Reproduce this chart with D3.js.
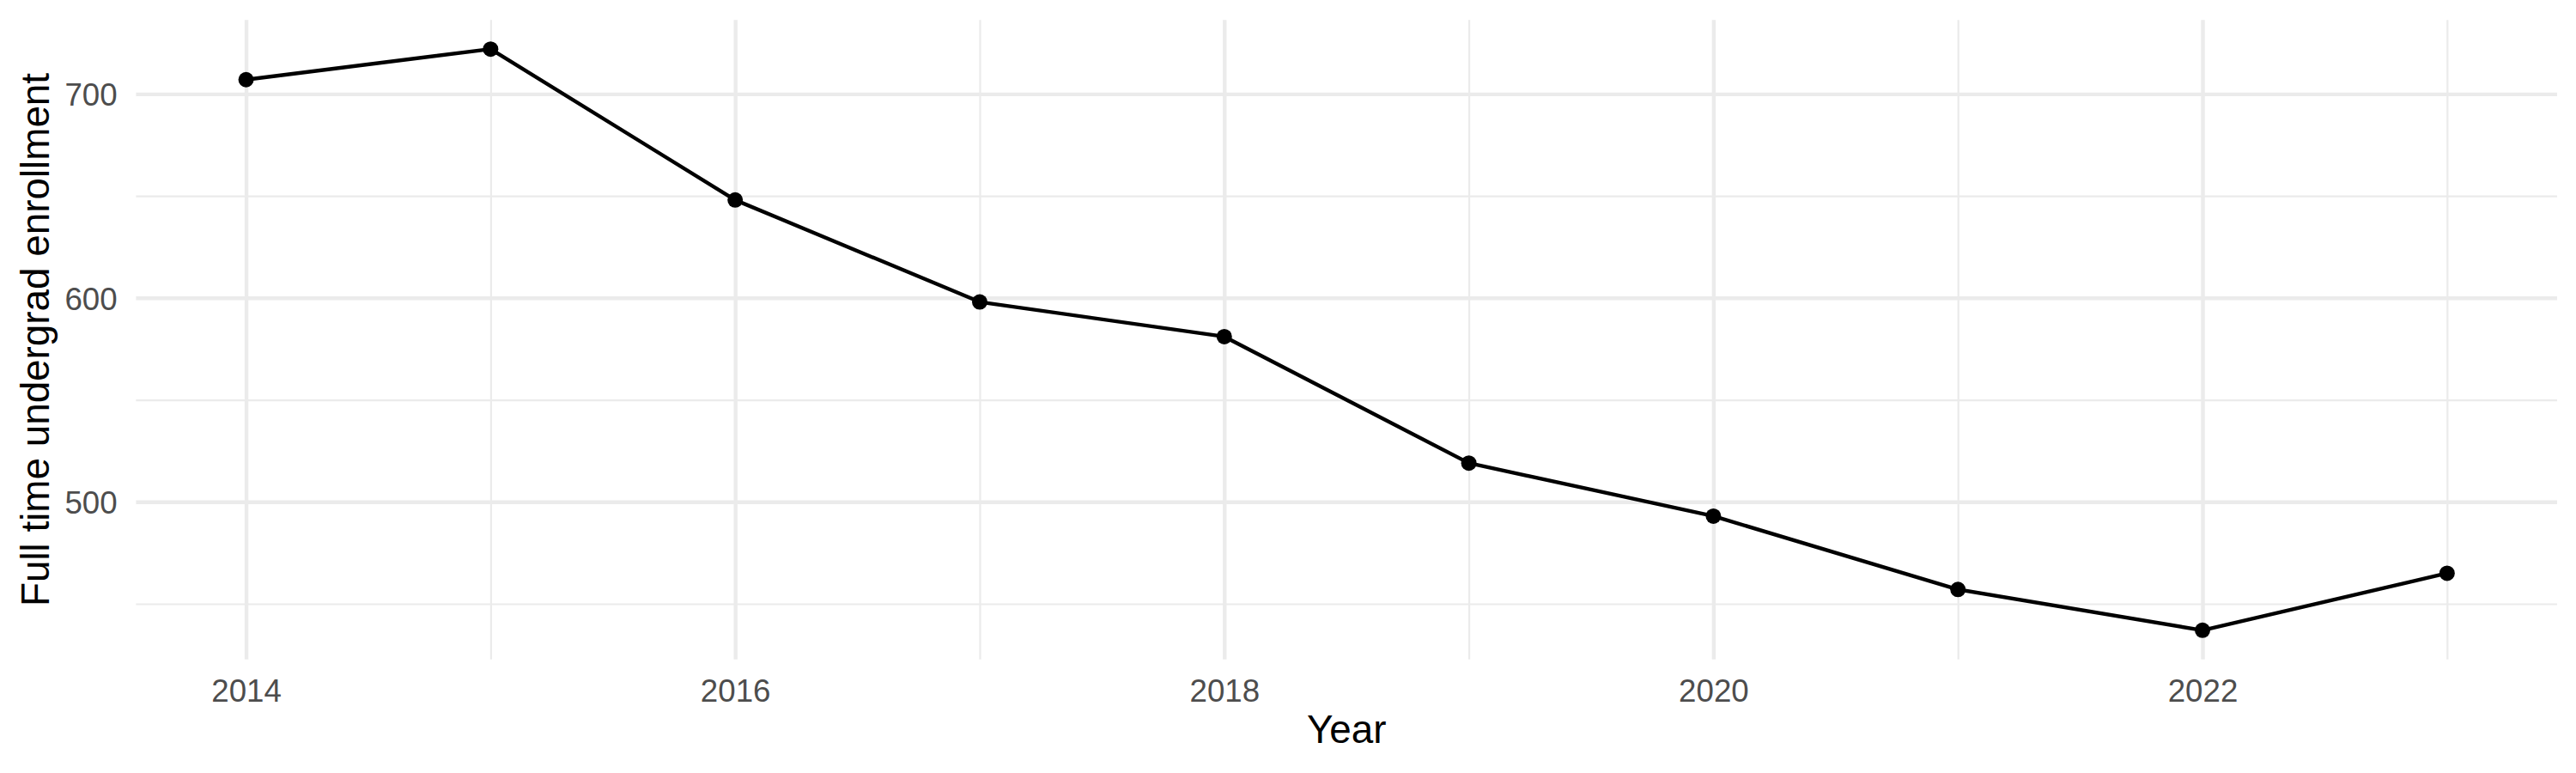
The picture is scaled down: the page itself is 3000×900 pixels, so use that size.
<!DOCTYPE html>
<html>
<head>
<meta charset="utf-8">
<script src="https://cdn.jsdelivr.net/npm/d3@7"></script>
<style>
  body { margin: 0; background: #fff; }
  svg { display: block; font-family: "Liberation Sans", Arial, Helvetica, sans-serif; }
</style>
</head>
<body>
<div id="chart"></div>
<script>
// Data
const years = [2014, 2015, 2016, 2017, 2018, 2019, 2020, 2021, 2022, 2023];
const enrollment = [707, 722, 648, 598, 581, 519, 493, 457, 437, 465];

// Axis breaks
const xMajorTicks = [2014, 2016, 2018, 2020, 2022];
const xMinorTicks = [2015, 2017, 2019, 2021, 2023];
const yMajorTicks = [500, 600, 700];
const yMinorTicks = [450, 550, 650];

const xTitle = "Year";
const yTitle = "Full time undergrad enrollment";

const data = years.map((y, i) => ({ year: y, value: enrollment[i] }));

const width = 3000;
const height = 900;
const panel = { left: 158.4, right: 2978, top: 23.3, bottom: 767.7 };

// ggplot-style 5% expansion of the data range
function expand(ext, mult) {
    const pad = (ext[1] - ext[0]) * mult;
    return [ext[0] - pad, ext[1] + pad];
}

const svg = d3.select("#chart")
    .append("svg")
    .attr("width", width)
    .attr("height", height);

svg.append("rect")
    .attr("width", width)
    .attr("height", height)
    .attr("fill", "#fff");

const x = d3.scaleLinear()
    .domain(expand(d3.extent(years), 0.05))
    .range([panel.left, panel.right]);

const y = d3.scaleLinear()
    .domain(expand(d3.extent(enrollment), 0.05))
    .range([panel.bottom, panel.top]);

const panelW = panel.right - panel.left;
const panelH = panel.bottom - panel.top;

// Grid lines (minor first, then major)
function grid(axis, ticks, w, transform) {
    const g = svg.append("g")
        .attr("transform", transform)
        .call(axis.tickValues(ticks).tickFormat("").tickSizeOuter(0));
    g.select(".domain").remove();
    g.selectAll(".tick line")
        .attr("stroke", "#EBEBEB")
        .attr("stroke-width", w);
    return g;
}

grid(d3.axisLeft(y).tickSize(-panelW), yMinorTicks, 2.2, `translate(${panel.left},0)`);
grid(d3.axisBottom(x).tickSize(-panelH), xMinorTicks, 2.2, `translate(0,${panel.bottom})`);
grid(d3.axisLeft(y).tickSize(-panelW), yMajorTicks, 4.4, `translate(${panel.left},0)`);
grid(d3.axisBottom(x).tickSize(-panelH), xMajorTicks, 4.4, `translate(0,${panel.bottom})`);

// Tick labels
const yAxis = svg.append("g")
    .attr("transform", `translate(${panel.left},0)`)
    .call(d3.axisLeft(y).tickValues(yMajorTicks).tickSize(0).tickPadding(21.8).tickFormat(d3.format("d")));
yAxis.select(".domain").remove();
yAxis.selectAll("text")
    .attr("dy", "0.36em")
    .attr("fill", "#4D4D4D")
    .style("font-size", "36.7px")
    .style("font-family", "Liberation Sans, Arial, sans-serif");

const xAxis = svg.append("g")
    .attr("transform", `translate(0,${panel.bottom})`)
    .call(d3.axisBottom(x).tickValues(xMajorTicks).tickSize(0).tickPadding(23).tickFormat(d3.format("d")));
xAxis.select(".domain").remove();
xAxis.selectAll("text")
    .attr("fill", "#4D4D4D")
    .style("font-size", "36.7px")
    .style("font-family", "Liberation Sans, Arial, sans-serif");

// Line
const line = d3.line()
    .x(d => x(d.year))
    .y(d => y(d.value));

svg.append("path")
    .datum(data)
    .attr("fill", "none")
    .attr("stroke", "#000")
    .attr("stroke-width", 4.4)
    .attr("stroke-linejoin", "round")
    .attr("d", line);

// Points
svg.append("g")
    .selectAll("circle")
    .data(data)
    .enter().append("circle")
    .attr("cx", d => x(d.year))
    .attr("cy", d => y(d.value))
    .attr("r", 9)
    .attr("fill", "#000");

// Axis titles
svg.append("text")
    .attr("x", (panel.left + panel.right) / 2)
    .attr("y", 865)
    .attr("text-anchor", "middle")
    .attr("fill", "#000")
    .style("font-size", "45.8px")
    .text(xTitle);

svg.append("text")
    .attr("transform", `translate(56.5,${(panel.top + panel.bottom) / 2}) rotate(-90)`)
    .attr("text-anchor", "middle")
    .attr("fill", "#000")
    .style("font-size", "45.8px")
    .text(yTitle);
</script>
</body>
</html>
